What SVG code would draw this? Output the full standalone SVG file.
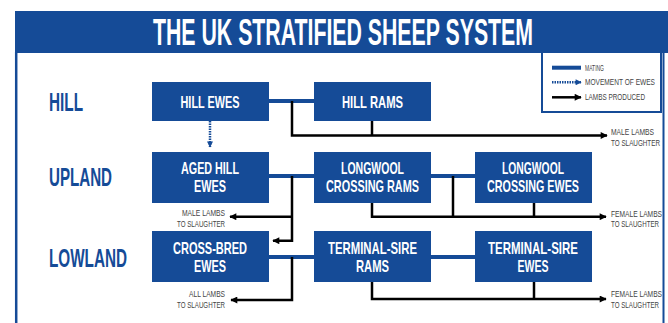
<svg xmlns="http://www.w3.org/2000/svg" width="668" height="323" viewBox="0 0 668 323">
<style>
.node{fill:#154b97}
.nt{font-family:"Liberation Sans",Arial,sans-serif;font-weight:bold;font-size:11.5px;fill:#ffffff;text-anchor:middle}
.row{font-family:"Liberation Sans",Arial,sans-serif;font-weight:bold;font-size:16px;fill:#154b97}
.sm{font-family:"Liberation Sans",Arial,sans-serif;font-size:7px;fill:#444444}
.lg{font-family:"Liberation Sans",Arial,sans-serif;font-size:6.2px;fill:#444444}
.mate{stroke:#154b97;stroke-width:4;fill:none}
.lamb{stroke:#000000;stroke-width:2.5;fill:none}
.move{stroke:#154b97;stroke-width:2.5;stroke-dasharray:1.5 1;fill:none}
</style>
<defs>
<marker id="ah" viewBox="0 0 10 10" refX="9" refY="5" markerWidth="9" markerHeight="7" markerUnits="userSpaceOnUse" orient="auto"><path d="M0,0 L10,5 L0,10 z" fill="#000000"/></marker>
<marker id="ahb" viewBox="0 0 10 10" refX="9" refY="5" markerWidth="8" markerHeight="6" markerUnits="userSpaceOnUse" orient="auto"><path d="M0,0 L10,5 L0,10 z" fill="#154b97"/></marker>
</defs>
<rect width="668" height="323" fill="#ffffff"/>
<g id="frame">
<rect x="15" y="11" width="653" height="42" fill="#154b97"/>
<line x1="16.2" y1="52" x2="16.2" y2="323" stroke="#154b97" stroke-width="2.5"/>
<line x1="663.5" y1="52" x2="663.5" y2="323" stroke="#154b97" stroke-width="2"/>
<text transform="translate(153,45) scale(1,1.8)" font-family="'Liberation Sans',Arial,sans-serif" font-weight="bold" font-size="20" fill="#ffffff" textLength="380" lengthAdjust="spacingAndGlyphs">THE UK STRATIFIED SHEEP SYSTEM</text>
</g>
<g id="legend">
<rect x="542" y="52" width="119" height="60" fill="#ffffff" stroke="#154b97" stroke-width="2"/>
<line x1="552" y1="67.7" x2="581" y2="67.7" class="mate" stroke-width="2.5"/>
<line x1="552" y1="82.3" x2="581" y2="82.3" class="move" stroke-width="2" marker-end="url(#ahb)"/>
<line x1="552" y1="97.3" x2="581" y2="97.3" class="lamb" stroke-width="2" marker-end="url(#ah)"/>
<text transform="translate(585,70.5) scale(1,1.35)" class="lg" textLength="19" lengthAdjust="spacingAndGlyphs">MATING</text>
<text transform="translate(585,85.3) scale(1,1.35)" class="lg" textLength="70" lengthAdjust="spacingAndGlyphs">MOVEMENT OF EWES</text>
<text transform="translate(585,100.3) scale(1,1.35)" class="lg" textLength="60" lengthAdjust="spacingAndGlyphs">LAMBS PRODUCED</text>
</g>
<g id="rows">
<text transform="translate(49,111) scale(1,1.65)" class="row" textLength="34" lengthAdjust="spacingAndGlyphs">HILL</text>
<text transform="translate(49,186) scale(1,1.65)" class="row" textLength="63" lengthAdjust="spacingAndGlyphs">UPLAND</text>
<text transform="translate(49,267) scale(1,1.65)" class="row" textLength="78" lengthAdjust="spacingAndGlyphs">LOWLAND</text>
</g>
<g id="connectors">
<line x1="269" y1="101" x2="314" y2="101" class="mate"/>
<line x1="269" y1="176" x2="475" y2="176" class="mate"/>
<line x1="269" y1="257" x2="475" y2="257" class="mate"/>
<path d="M292,101 V135.5 H607" class="lamb" marker-end="url(#ah)"/>
<path d="M372,120 V135.5" class="lamb"/>
<line x1="210" y1="121" x2="210" y2="147" class="move" marker-end="url(#ahb)"/>
<path d="M292,176 V240.7 H273" class="lamb" marker-end="url(#ah)"/>
<path d="M292,216.7 H230" class="lamb" marker-end="url(#ah)"/>
<path d="M372,203 V216.7 H606" class="lamb" marker-end="url(#ah)"/>
<path d="M453,176 V216.7" class="lamb"/>
<path d="M534,203 V216.7" class="lamb"/>
<path d="M292,257 V300 H231" class="lamb" marker-end="url(#ah)"/>
<path d="M372,282 V299 H606" class="lamb" marker-end="url(#ah)"/>
<path d="M534,282 V299" class="lamb"/>
</g>
<g id="lamb-labels">
<text transform="translate(611,134.5) scale(1,1.4)" class="sm" textLength="43" lengthAdjust="spacingAndGlyphs">MALE LAMBS</text>
<text transform="translate(611,145.5) scale(1,1.4)" class="sm" textLength="49" lengthAdjust="spacingAndGlyphs">TO SLAUGHTER</text>
<text transform="translate(225,215.7) scale(1,1.4)" class="sm" text-anchor="end" textLength="43" lengthAdjust="spacingAndGlyphs">MALE LAMBS</text>
<text transform="translate(225,226.5) scale(1,1.4)" class="sm" text-anchor="end" textLength="48" lengthAdjust="spacingAndGlyphs">TO SLAUGHTER</text>
<text transform="translate(611,216.5) scale(1,1.4)" class="sm" textLength="51" lengthAdjust="spacingAndGlyphs">FEMALE LAMBS</text>
<text transform="translate(611,227) scale(1,1.4)" class="sm" textLength="48" lengthAdjust="spacingAndGlyphs">TO SLAUGHTER</text>
<text transform="translate(225,297) scale(1,1.4)" class="sm" text-anchor="end" textLength="36" lengthAdjust="spacingAndGlyphs">ALL LAMBS</text>
<text transform="translate(225,307.5) scale(1,1.4)" class="sm" text-anchor="end" textLength="48" lengthAdjust="spacingAndGlyphs">TO SLAUGHTER</text>
<text transform="translate(611,297) scale(1,1.4)" class="sm" textLength="51" lengthAdjust="spacingAndGlyphs">FEMALE LAMBS</text>
<text transform="translate(611,307.5) scale(1,1.4)" class="sm" textLength="48" lengthAdjust="spacingAndGlyphs">TO SLAUGHTER</text>
</g>
<g id="hill-ewes"><rect x="152" y="82" width="117" height="39" class="node"/><text transform="translate(210,107.7) scale(1,1.45)" class="nt" textLength="59" lengthAdjust="spacingAndGlyphs">HILL EWES</text></g>
<g id="hill-rams"><rect x="314" y="82" width="117" height="39" class="node"/><text transform="translate(372.5,107.7) scale(1,1.45)" class="nt" textLength="61" lengthAdjust="spacingAndGlyphs">HILL RAMS</text></g>
<g id="aged-hill-ewes"><rect x="152" y="152" width="117" height="51" class="node"/><text transform="translate(210,174.3) scale(1,1.45)" class="nt" textLength="58" lengthAdjust="spacingAndGlyphs">AGED HILL</text><text transform="translate(210,192) scale(1,1.45)" class="nt" textLength="32" lengthAdjust="spacingAndGlyphs">EWES</text></g>
<g id="longwool-rams"><rect x="314" y="152" width="117" height="51" class="node"/><text transform="translate(372.5,174.3) scale(1,1.45)" class="nt" textLength="63" lengthAdjust="spacingAndGlyphs">LONGWOOL</text><text transform="translate(372.5,192) scale(1,1.45)" class="nt" textLength="93" lengthAdjust="spacingAndGlyphs">CROSSING RAMS</text></g>
<g id="longwool-ewes"><rect x="475" y="152" width="117" height="51" class="node"/><text transform="translate(533,174.3) scale(1,1.45)" class="nt" textLength="62" lengthAdjust="spacingAndGlyphs">LONGWOOL</text><text transform="translate(533,192) scale(1,1.45)" class="nt" textLength="92" lengthAdjust="spacingAndGlyphs">CROSSING EWES</text></g>
<g id="cross-bred-ewes"><rect x="152" y="231" width="117" height="51" class="node"/><text transform="translate(210,254) scale(1,1.45)" class="nt" textLength="74" lengthAdjust="spacingAndGlyphs">CROSS-BRED</text><text transform="translate(210,272) scale(1,1.45)" class="nt" textLength="32" lengthAdjust="spacingAndGlyphs">EWES</text></g>
<g id="terminal-sire-rams"><rect x="314" y="231" width="117" height="51" class="node"/><text transform="translate(372.5,254) scale(1,1.45)" class="nt" textLength="89" lengthAdjust="spacingAndGlyphs">TERMINAL-SIRE</text><text transform="translate(372.5,272) scale(1,1.45)" class="nt" textLength="33" lengthAdjust="spacingAndGlyphs">RAMS</text></g>
<g id="terminal-sire-ewes"><rect x="475" y="231" width="117" height="51" class="node"/><text transform="translate(533,254) scale(1,1.45)" class="nt" textLength="90" lengthAdjust="spacingAndGlyphs">TERMINAL-SIRE</text><text transform="translate(533,272) scale(1,1.45)" class="nt" textLength="31" lengthAdjust="spacingAndGlyphs">EWES</text></g>
</svg>
